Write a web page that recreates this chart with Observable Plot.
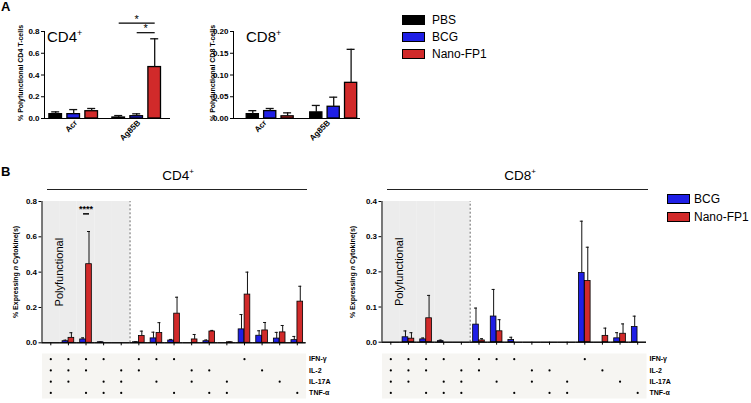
<!DOCTYPE html>
<html><head><meta charset="utf-8">
<script src="https://cdn.jsdelivr.net/npm/d3@7"></script>
<script src="https://cdn.jsdelivr.net/npm/@observablehq/plot@0.6"></script>
<style>
body{margin:0;background:#fff}
#fig{position:relative;width:751px;height:403px;overflow:hidden;background:#fff;font-family:"Liberation Sans",Arial,Helvetica,sans-serif;color:#000}
.abs{position:absolute;white-space:nowrap}
.rot{position:absolute;transform:translate(-50%,-50%) rotate(-90deg);white-space:nowrap;font-size:7px;font-weight:bold;line-height:8px}
.sw{position:absolute;width:21px;height:8px;border:1px solid #000}
.lg{position:absolute;font-size:12px;line-height:12px;white-space:nowrap}
.hl{position:absolute;height:1.5px;background:#222}
</style></head><body><div id="fig"></div>
<script>
// ---------- data: panel A ----------
const groupsA = ["Acr", "Ag85B"];
const treatA = ["PBS", "BCG", "Nano-FP1"];
const colorsA = ["#000000", "#1f1fe6", "#d12a2a"];
const ticksCD4A = [0, 0.2, 0.4, 0.6, 0.8];
const ticksCD8A = [0, 0.05, 0.1, 0.15, 0.2];

const cd4A_PBS = [0.040, 0.009];
const cd4A_PBS_err = [0.021, 0.018];
const cd4A_BCG = [0.040, 0.021];
const cd4A_BCG_err = [0.042, 0.022];
const cd4A_Nano = [0.067, 0.473];
const cd4A_Nano_err = [0.025, 0.260];

const cd8A_PBS = [0.010, 0.014];
const cd8A_PBS_err = [0.008, 0.016];
const cd8A_BCG = [0.017, 0.027];
const cd8A_BCG_err = [0.006, 0.022];
const cd8A_Nano = [0.005, 0.082];
const cd8A_Nano_err = [0.008, 0.077];

const sigA = [
  {group: "Ag85B", from: "PBS", to: "Nano-FP1", y: 0.877, label: "*"},
  {group: "Ag85B", from: "BCG", to: "Nano-FP1", y: 0.789, label: "*"}
];

// ---------- data: panel B ----------
const treatB = ["BCG", "Nano-FP1"];
const colorsB = ["#1f1fe6", "#d12a2a"];
const cytokines = ["IFN-γ", "IL-2", "IL-17A", "TNF-α"];
const combos = [
  ["IFN-γ", "IL-2", "IL-17A", "TNF-α"],
  ["IFN-γ", "IL-2", "IL-17A"],
  ["IFN-γ", "IL-2", "TNF-α"],
  ["IFN-γ", "IL-17A", "TNF-α"],
  ["IL-2", "IL-17A", "TNF-α"],
  ["IFN-γ", "IL-2"],
  ["IFN-γ", "IL-17A"],
  ["IFN-γ", "TNF-α"],
  ["IL-2", "IL-17A"],
  ["IL-2", "TNF-α"],
  ["IL-17A", "TNF-α"],
  ["IFN-γ"],
  ["IL-2"],
  ["IL-17A"],
  ["TNF-α"]
];
const ticksCD4B = [0, 0.2, 0.4, 0.6, 0.8];
const ticksCD8B = [0, 0.1, 0.2, 0.3, 0.4];

const cd4B_BCG     = [0, 0.009, 0.019, 0.003, 0, 0.003, 0.025, 0.013, 0, 0.009, 0, 0.076, 0.040, 0.024, 0.015];
const cd4B_BCG_err = [0, 0.006, 0.009, 0.002, 0, 0.003, 0.035, 0.006, 0, 0.007, 0, 0.084, 0.028, 0.035, 0.021];
const cd4B_Nano     = [0, 0.028, 0.445, 0, 0, 0.038, 0.055, 0.165, 0.019, 0.064, 0.003, 0.273, 0.070, 0.059, 0.233];
const cd4B_Nano_err = [0, 0.029, 0.185, 0, 0, 0.028, 0.059, 0.093, 0.028, 0.006, 0.002, 0.127, 0.045, 0.039, 0.087];

const cd8B_BCG     = [0, 0.014, 0.008, 0.003, 0, 0.050, 0.073, 0.006, 0, 0, 0, 0.197, 0, 0.011, 0.043];
const cd8B_BCG_err = [0, 0.018, 0.004, 0.003, 0, 0.047, 0.077, 0.008, 0, 0, 0, 0.147, 0, 0.016, 0.031];
const cd8B_Nano     = [0, 0.010, 0.068, 0, 0, 0.005, 0.031, 0, 0, 0, 0, 0.174, 0.018, 0.024, 0];
const cd8B_Nano_err = [0, 0.017, 0.065, 0, 0, 0.005, 0.033, 0, 0, 0, 0, 0.096, 0.022, 0.028, 0];

const sigCD4B = [{comboIndex: 2, y: 0.73, label: "****"}];

// ---------- build tables ----------
const comboKeys = combos.map(c => c.join(" + "));
function makeRows(groups, treats, vals, errs) {
  return groups.flatMap((g, i) => treats.map((t, j) => ({group: g, treat: t, value: vals[j][i], err: errs[j][i]})));
}
const rowsCD4A = makeRows(groupsA, treatA, [cd4A_PBS, cd4A_BCG, cd4A_Nano], [cd4A_PBS_err, cd4A_BCG_err, cd4A_Nano_err]);
const rowsCD8A = makeRows(groupsA, treatA, [cd8A_PBS, cd8A_BCG, cd8A_Nano], [cd8A_PBS_err, cd8A_BCG_err, cd8A_Nano_err]);
const rowsCD4B = makeRows(comboKeys, treatB, [cd4B_BCG, cd4B_Nano], [cd4B_BCG_err, cd4B_Nano_err]);
const rowsCD8B = makeRows(comboKeys, treatB, [cd8B_BCG, cd8B_Nano], [cd8B_BCG_err, cd8B_Nano_err]);
const polyKeys = comboKeys.filter((k, i) => combos[i].length >= 3);
const firstNonPoly = comboKeys.find((k, i) => combos[i].length < 3);
const matrixDots = combos.flatMap((c, i) => c.map(cy => ({combo: comboKeys[i], cyto: cy})));

// ---------- helpers ----------
const fig = document.getElementById("fig");
function place(el, left, top) {
  const d = document.createElement("div");
  d.style.cssText = `position:absolute;left:${left}px;top:${top}px;line-height:0`;
  d.appendChild(el);
  fig.appendChild(d);
}
function addHTML(html) { fig.insertAdjacentHTML("beforeend", html); }
const baseStyle = {fontFamily: "'Liberation Sans', Arial, Helvetica, sans-serif", fontSize: "8px", fontWeight: "bold", background: "none", overflow: "visible", color: "#000"};

// a vertical rule at the left edge of a facet (x band centre shifted back to the facet's edge)
function facetEdgeRule(key, inner, xDomain, y1, y2, opts) {
  return Plot.ruleX([key], Object.assign({fx: d => d, x: () => xDomain[0], y1, y2, dx: -(inner(xDomain[0]) + inner.bandwidth() / 2)}, opts));
}

function barPanel(o) {
  const fw = (o.width - o.ml - o.mr) / o.fxDomain.length;
  const inner = d3.scaleBand(o.xDomain, [0, fw]).paddingInner(o.pi).paddingOuter(o.po).align(o.align);
  const capInset = Math.max(0, (inner.bandwidth() - o.cap) / 2);
  const withErr = o.rows.filter(d => d.err > 0);
  const marks = [
    ...(o.under ? o.under(inner, fw) : []),
    Plot.barY(o.rows.filter(d => d.value > 0), {fx: "group", x: "treat", y: "value", fill: "treat", stroke: "#000", strokeWidth: o.barStroke}),
    Plot.ruleX(withErr, {fx: "group", x: "treat", y1: "value", y2: d => d.value + d.err, stroke: "#111", strokeWidth: o.errStroke}),
    Plot.tickY(withErr, {fx: "group", x: "treat", y: d => d.value + d.err, stroke: "#111", strokeWidth: o.errStroke, insetLeft: capInset, insetRight: capInset}),
    // baseline, one per facet (uses every row so that no facet is empty)
    Plot.ruleY(o.rows, {fx: "group", y: () => 0, stroke: "#000", strokeWidth: 1}),
    // y axis line
    facetEdgeRule(o.fxDomain[0], inner, o.xDomain, o.yDomain[0], o.yDomain[1], {stroke: "#000", strokeWidth: 1}),
    ...(o.over ? o.over(inner, fw) : [])
  ];
  return Plot.plot({
    width: o.width, height: o.height,
    marginLeft: o.ml, marginRight: o.mr, marginTop: o.mt, marginBottom: o.mb,
    style: baseStyle,
    fx: Object.assign({domain: o.fxDomain, padding: 0, round: false, axis: "bottom", label: null}, o.fxAxis),
    x: {domain: o.xDomain, paddingInner: o.pi, paddingOuter: o.po, align: o.align, round: false, axis: null},
    y: {domain: o.yDomain, ticks: o.yTicks, tickFormat: o.yFormat, tickSize: 3, tickPadding: 2, label: null},
    color: {domain: o.xDomain, range: o.colors},
    marks
  });
}

function matrixPanel(o) {
  return Plot.plot({
    width: o.width, height: o.height,
    marginLeft: o.ml, marginRight: o.mr, marginTop: o.mt, marginBottom: o.mb,
    style: Object.assign({}, baseStyle, {fontSize: "7px"}),
    x: {type: "band", domain: comboKeys, padding: 0, round: false, axis: null},
    y: {type: "band", domain: cytokines, padding: 0, round: false, axis: "right", tickSize: 0, tickPadding: 3, label: null},
    marks: [
      Plot.frame({fill: "#f6f5f2", stroke: "none"}),
      Plot.dot(matrixDots, {x: "combo", y: "cyto", r: 1.1, fill: "#000", stroke: "none"})
    ]
  });
}

function sigMarksA(inner) {
  return [
    Plot.link(sigA, {fx: "group", x1: "from", x2: "to", y1: "y", y2: "y", stroke: "#000", strokeWidth: 1.2}),
    ...sigA.map(s => Plot.text([s], {fx: "group", x: "to", y: "y", text: "label", dx: (inner(s.from) - inner(s.to)) / 2, dy: -4, fontSize: 11, fontWeight: "normal"}))
  ];
}

function polyUnder(top) {
  return (inner) => [
    Plot.barY(polyKeys, {fx: d => d, y1: 0, y2: top, fill: "#ececec"}),
    facetEdgeRule(firstNonPoly, inner, treatB, 0, top, {stroke: "#666", strokeWidth: 1, strokeDasharray: "2,2"})
  ];
}
function polyLabel() {
  return Plot.text(["Polyfunctional"], {fx: () => comboKeys[0], frameAnchor: "right", textAnchor: "middle", lineAnchor: "middle", rotate: -90, text: d => d, fontSize: 11, fontWeight: "normal"});
}

// ---------- panel A ----------
place(barPanel({
  width: 176, height: 145, ml: 44, mr: 6, mt: 31, mb: 27,
  fxDomain: groupsA, xDomain: treatA, colors: colorsA,
  pi: 0.3, po: 0.4, align: 0.34, cap: 8,
  yDomain: [0, 0.8], yTicks: ticksCD4A, yFormat: ".1f",
  fxAxis: {tickRotate: -45, tickSize: 0, tickPadding: 3},
  rows: rowsCD4A, barStroke: 1.3, errStroke: 1.3,
  over: sigMarksA
}), 0, 0);

place(barPanel({
  width: 180, height: 145, ml: 48, mr: 5, mt: 31, mb: 27,
  fxDomain: groupsA, xDomain: treatA, colors: colorsA,
  pi: 0.3, po: 0.474, align: 0.8, cap: 8,
  yDomain: [0, 0.2], yTicks: ticksCD8A, yFormat: ".2f",
  fxAxis: {tickRotate: -45, tickSize: 0, tickPadding: 3},
  rows: rowsCD8A, barStroke: 1.3, errStroke: 1.3
}), 185, 0);

// ---------- panel B ----------
place(barPanel({
  width: 310, height: 158, ml: 41.5, mr: 4.4, mt: 11, mb: 5.7,
  fxDomain: comboKeys, xDomain: treatB, colors: colorsB,
  pi: 0.05, po: 0.5, align: 0.5, cap: 3,
  yDomain: [0, 0.8], yTicks: ticksCD4B, yFormat: ".1f",
  fxAxis: {tickSize: 3, tickFormat: () => ""},
  rows: rowsCD4B, barStroke: 0.8, errStroke: 1,
  under: polyUnder(0.8),
  over: () => [
    polyLabel(),
    Plot.link(sigCD4B, {fx: d => comboKeys[d.comboIndex], x1: () => treatB[0], x2: () => treatB[1], y1: "y", y2: "y", stroke: "#000", strokeWidth: 1.5}),
    Plot.text(sigCD4B, {fx: d => comboKeys[d.comboIndex], frameAnchor: "middle", y: "y", text: "label", dy: -5, fontSize: 9, fontWeight: "bold"})
  ]
}), 0, 190);

place(barPanel({
  width: 305, height: 158, ml: 36.5, mr: 4, mt: 11, mb: 6.3,
  fxDomain: comboKeys, xDomain: treatB, colors: colorsB,
  pi: 0.05, po: 0.5, align: 0.5, cap: 3,
  yDomain: [0, 0.4], yTicks: ticksCD8B, yFormat: ".1f",
  fxAxis: {tickSize: 3, tickFormat: () => ""},
  rows: rowsCD8B, barStroke: 0.8, errStroke: 1,
  under: polyUnder(0.4),
  over: () => [polyLabel()]
}), 345, 190);

place(matrixPanel({width: 345, height: 53, ml: 41.5, mr: 39.4, mt: 3, mb: 5}), 0, 350);
place(matrixPanel({width: 406, height: 53, ml: 36.5, mr: 105, mt: 3, mb: 5}), 345, 350);

// ---------- text, legends, headers ----------
addHTML(`<div class="abs" style="left:1px;top:0px;font-size:13px;font-weight:bold;line-height:13px">A</div>`);
addHTML(`<div class="abs" style="left:1px;top:165px;font-size:13px;font-weight:bold;line-height:13px">B</div>`);
addHTML(`<div class="abs" style="left:47px;top:29px;font-size:15px;line-height:15px">CD4<sup style="font-size:9px;vertical-align:6px;line-height:0">+</sup></div>`);
addHTML(`<div class="abs" style="left:246px;top:29px;font-size:15px;line-height:15px">CD8<sup style="font-size:9px;vertical-align:6px;line-height:0">+</sup></div>`);
addHTML(`<div class="rot" style="left:20.5px;top:72.5px">% Polyfunctional CD4 T-cells</div>`);
addHTML(`<div class="rot" style="left:213px;top:72.5px">% Polyfunctional CD8 T-cells</div>`);
addHTML(`<div class="rot" style="left:16px;top:272px">% Expressing <i>n</i> Cytokine(s)</div>`);
addHTML(`<div class="rot" style="left:353px;top:272px">% Expressing <i>n</i> Cytokine(s)</div>`);

treatA.forEach((t, i) => {
  addHTML(`<div class="sw" style="left:402px;top:${15 + i * 17}px;background:${colorsA[i]}"></div>`);
  addHTML(`<div class="lg" style="left:432px;top:${14 + i * 17}px">${t}</div>`);
});
treatB.forEach((t, i) => {
  addHTML(`<div class="sw" style="left:667px;top:${194 + i * 18}px;background:${colorsB[i]}"></div>`);
  addHTML(`<div class="lg" style="left:694px;top:${193 + i * 18}px">${t}</div>`);
});

addHTML(`<div class="abs" style="left:178px;top:169px;transform:translateX(-50%);font-size:13.5px;line-height:14px">CD4<sup style="font-size:8px;vertical-align:6px;line-height:0">+</sup></div>`);
addHTML(`<div class="abs" style="left:520px;top:169px;transform:translateX(-50%);font-size:13.5px;line-height:14px">CD8<sup style="font-size:8px;vertical-align:6px;line-height:0">+</sup></div>`);
addHTML(`<div class="hl" style="left:47px;top:188.5px;width:260px"></div>`);
addHTML(`<div class="hl" style="left:387px;top:188.5px;width:261px"></div>`);
</script></body></html>
